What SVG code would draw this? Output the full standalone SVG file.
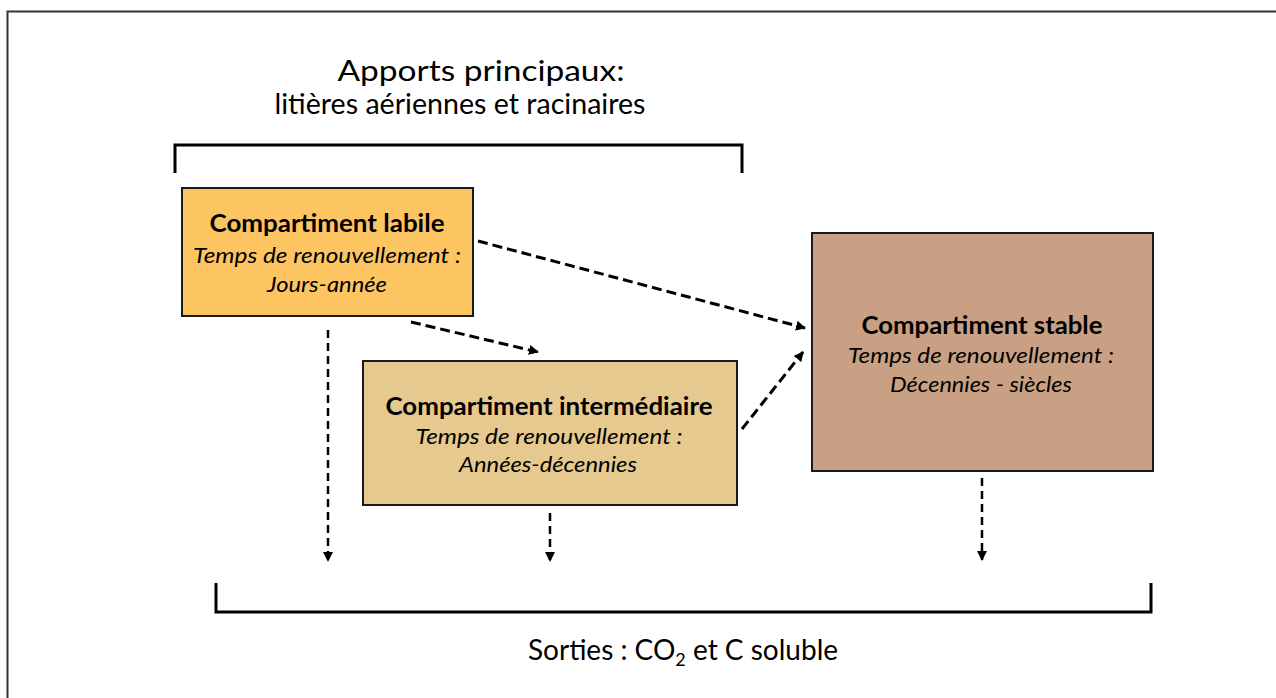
<svg xmlns="http://www.w3.org/2000/svg" width="1276" height="698" viewBox="0 0 1276 698">
<defs>
<style>
.t{font-family:Lato,"Open Sans","Liberation Sans",sans-serif;fill:#000;text-anchor:middle}
.big{font-size:28px}
.ttl{font-size:24px;font-weight:bold}
.it{font-size:22px;font-style:italic}
.box{stroke:#1a1a1a;stroke-width:2}
.br{fill:none;stroke:#000;stroke-width:3}
.d{fill:none;stroke:#000;stroke-width:3;stroke-dasharray:10 5}
.v{fill:none;stroke:#000;stroke-width:2.5;stroke-dasharray:8 5}
</style>
<marker id="ah" viewBox="0 0 10 10" refX="9" refY="5" markerWidth="10" markerHeight="10" markerUnits="userSpaceOnUse" orient="auto">
<path d="M0,0 L10,5 L0,10 z" fill="#000"/>
</marker>
</defs>
<rect width="1276" height="698" fill="#fff"/>
<path d="M7.5,698 V11.5 H1276" fill="none" stroke="#333" stroke-width="2"/>

<g id="apports">
<text class="t big" x="481" y="81" textLength="287" lengthAdjust="spacingAndGlyphs">Apports principaux:</text>
<text class="t big" x="460" y="114" textLength="371" lengthAdjust="spacingAndGlyphs">litières aériennes et racinaires</text>
<path class="br" d="M175,173 V145 H742 V173"/>
</g>

<g id="labile">
<rect class="box" x="182" y="188" width="291" height="128" fill="#FCC562"/>
<text class="t ttl" x="327" y="232" textLength="235" lengthAdjust="spacingAndGlyphs">Compartiment labile</text>
<text class="t it" x="327" y="263" textLength="268" lengthAdjust="spacingAndGlyphs">Temps de renouvellement :</text>
<text class="t it" x="327" y="292" textLength="120" lengthAdjust="spacingAndGlyphs">Jours-année</text>
</g>

<g id="intermediaire">
<rect class="box" x="363" y="361" width="374" height="144" fill="#E6C98E"/>
<text class="t ttl" x="549" y="415" textLength="327" lengthAdjust="spacingAndGlyphs">Compartiment intermédiaire</text>
<text class="t it" x="549" y="444" textLength="267" lengthAdjust="spacingAndGlyphs">Temps de renouvellement :</text>
<text class="t it" x="548" y="472" textLength="178" lengthAdjust="spacingAndGlyphs">Années-décennies</text>
</g>

<g id="stable">
<rect class="box" x="812" y="233" width="341" height="238" fill="#C9A084"/>
<text class="t ttl" x="982" y="334" textLength="241" lengthAdjust="spacingAndGlyphs">Compartiment stable</text>
<text class="t it" x="981" y="363" textLength="266" lengthAdjust="spacingAndGlyphs">Temps de renouvellement :</text>
<text class="t it" x="981" y="392" textLength="182" lengthAdjust="spacingAndGlyphs">Décennies - siècles</text>
</g>

<g id="sorties">
<path class="br" d="M216,583 V612 H1151 V583"/>
<text class="t big" x="683" y="660">Sorties : CO<tspan font-size="18" dy="6">2</tspan><tspan dy="-6"> et C soluble</tspan></text>
</g>

<g id="connectors">
<path class="d" d="M478,241 L805,328" marker-end="url(#ah)"/>
<path class="d" d="M411,322 L538,352" marker-end="url(#ah)"/>
<path class="d" d="M742,429 L803,352" marker-end="url(#ah)"/>
<path class="v" d="M328,330 V561" marker-end="url(#ah)"/>
<path class="v" d="M550,513 V561" marker-end="url(#ah)"/>
<path class="v" d="M982,478 V560" marker-end="url(#ah)"/>
</g>
</svg>
